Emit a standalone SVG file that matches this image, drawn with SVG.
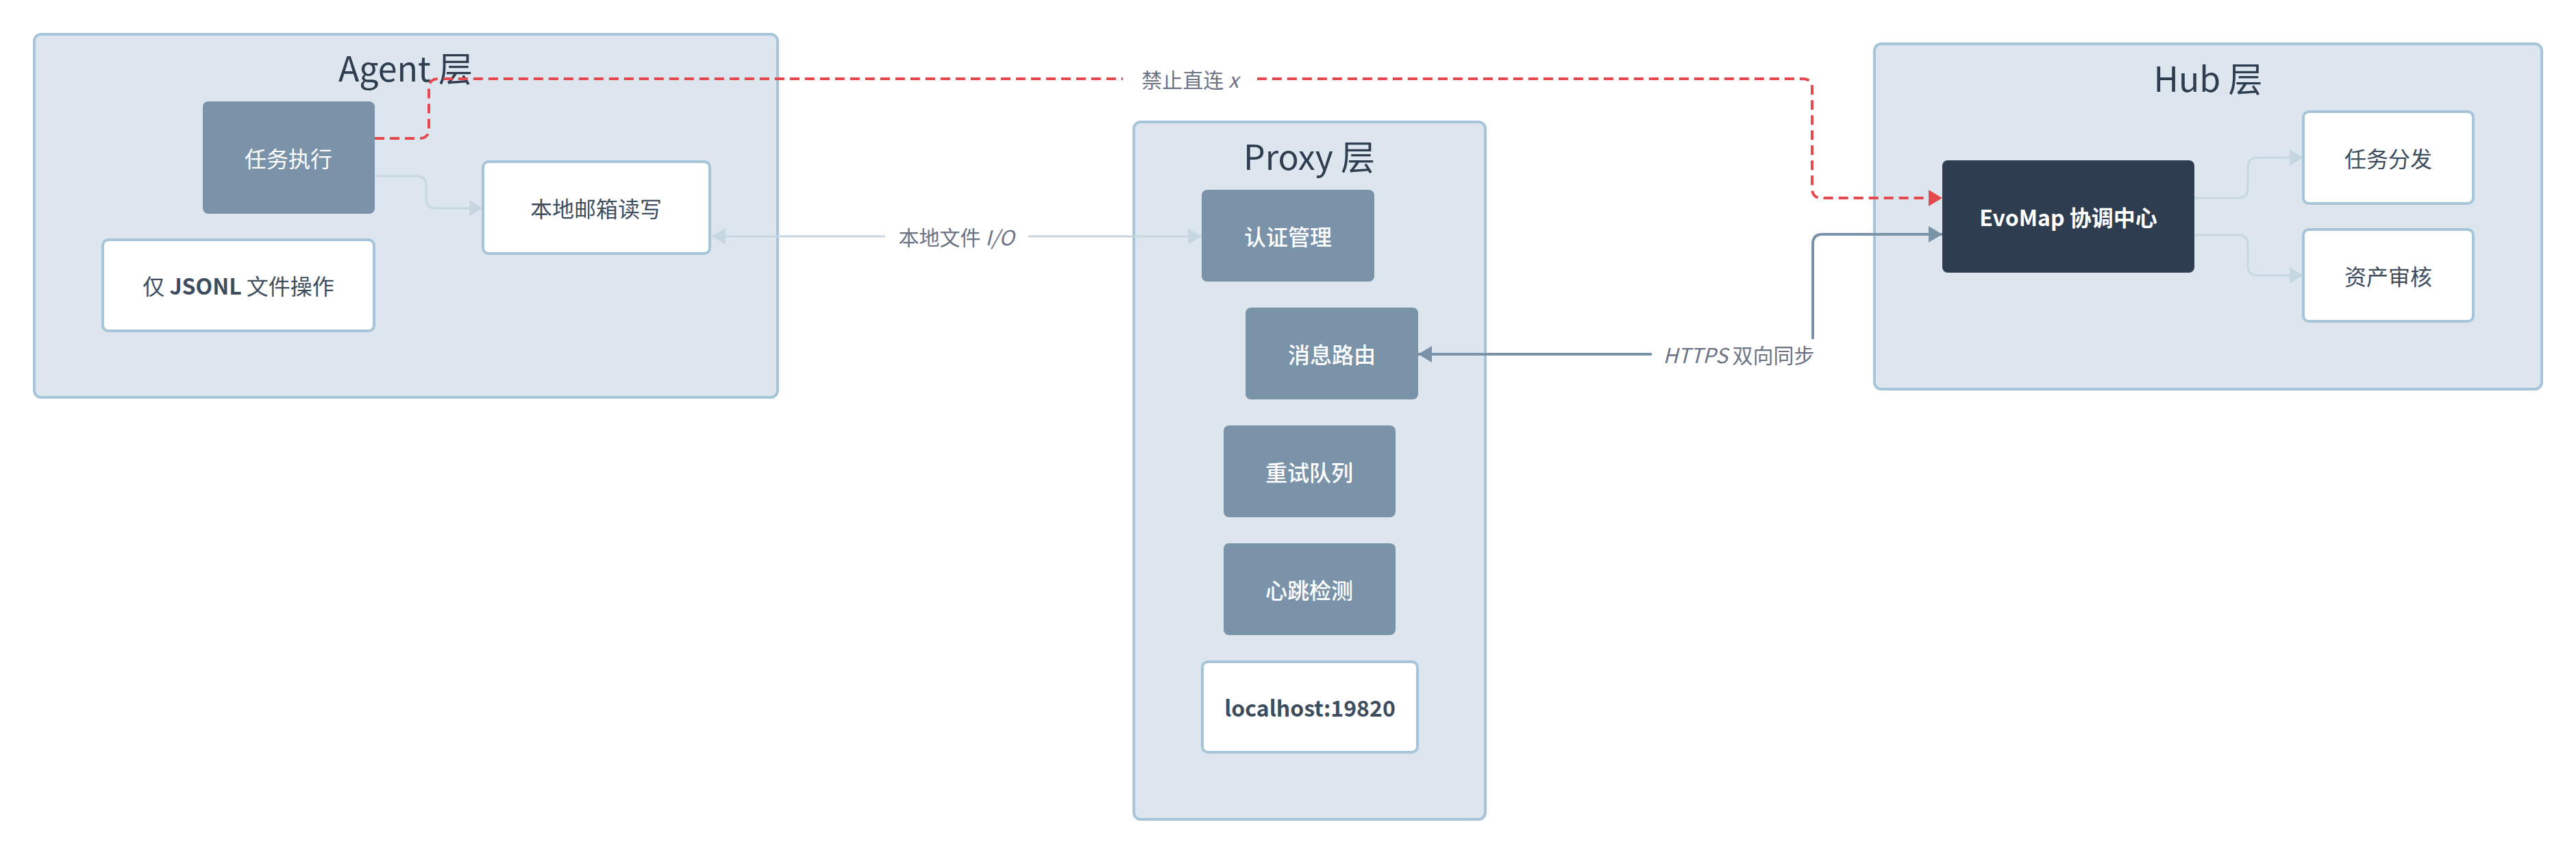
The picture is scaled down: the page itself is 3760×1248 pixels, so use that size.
<svg xmlns="http://www.w3.org/2000/svg" width="3760" height="1248" viewBox="0 0 3760 1248">
<defs>
<style>
text{font-family:"Noto Sans CJK SC","Noto Sans",sans-serif;text-anchor:middle;dominant-baseline:central}
.cont{fill:#dde6ee;stroke:#a7c5d8;stroke-width:4}
.title{font-size:50px;fill:#2e3d50}
.mid{fill:#7b93a9}
.dark{fill:#2e3d50}
.white{fill:#ffffff;stroke:#a7c5d8;stroke-width:4}
.tw{font-size:32px;fill:#ffffff}
.tm{font-weight:500}
.tb{font-size:32px;fill:#3d4d5e}
.lbl{font-size:30px;fill:#6b7385}
.light{fill:none;stroke:#c7d7e1;stroke-width:3}
.red{fill:none;stroke:#e5484d;stroke-width:4;stroke-dasharray:14 8}
.blue{fill:none;stroke:#7b93a9;stroke-width:4}
</style>
<marker id="aL" markerUnits="userSpaceOnUse" markerWidth="20" markerHeight="24" refX="20" refY="12" orient="auto-start-reverse"><path d="M0,0 L20,12 L0,24 z" fill="#c7d7e1"/></marker>
<marker id="aR" markerUnits="userSpaceOnUse" markerWidth="20" markerHeight="24" refX="20" refY="12" orient="auto-start-reverse"><path d="M0,0 L20,12 L0,24 z" fill="#e5484d"/></marker>
<marker id="aB" markerUnits="userSpaceOnUse" markerWidth="20" markerHeight="24" refX="20" refY="12" orient="auto-start-reverse"><path d="M0,0 L20,12 L0,24 z" fill="#7b93a9"/></marker>
</defs>
<rect width="3760" height="1248" fill="#ffffff"/>

<g id="agent-layer">
<rect class="cont" x="50" y="50" width="1085" height="530" rx="10"/>
<text class="title" x="592" y="97">Agent 层</text>
</g>
<g id="proxy-layer">
<rect class="cont" x="1655" y="178" width="513" height="1018" rx="10"/>
<text class="title" x="1911" y="226">Proxy 层</text>
</g>
<g id="hub-layer">
<rect class="cont" x="2736" y="64" width="974" height="504" rx="10"/>
<text class="title" x="3223" y="112">Hub 层</text>
</g>

<g id="connectors">
<path class="light" d="M547,257 H608 Q622,257 622,271 V290 Q622,304 636,304 H705" marker-end="url(#aL)"/>
<path class="light" d="M1039,345 H1754" marker-start="url(#aL)" marker-end="url(#aL)"/>
<rect x="1292" y="322" width="209" height="46" fill="#ffffff"/>
<text class="lbl" x="1396" y="345">本地文件 <tspan font-style="italic">I/O</tspan></text>
<path class="red" d="M547,202 H612 Q626,202 626,188 V129 Q626,115 640,115 H2631 Q2645,115 2645,129 V275 Q2645,289 2659,289 H2835" marker-end="url(#aR)"/>
<rect x="1639" y="92" width="196" height="46" fill="#ffffff"/>
<text class="lbl" x="1737" y="115">禁止直连 <tspan font-style="italic">x</tspan></text>
<path class="blue" d="M2070,517 H2632 Q2646,517 2646,503 V356 Q2646,342 2660,342 H2835" marker-start="url(#aB)" marker-end="url(#aB)"/>
<rect x="2411" y="495" width="252" height="45" fill="#ffffff"/>
<text class="lbl" x="2538" y="517"><tspan font-style="italic">HTTPS</tspan> 双向同步</text>
<path class="light" d="M3203,289 H3267 Q3281,289 3281,275 V244 Q3281,230 3295,230 H3362" marker-end="url(#aL)"/>
<path class="light" d="M3203,343 H3267 Q3281,343 3281,357 V388 Q3281,402 3295,402 H3362" marker-end="url(#aL)"/>
</g>

<g id="node-task-exec">
<rect class="mid" x="296" y="148" width="251" height="164" rx="8"/>
<text class="tw" x="421" y="230">任务执行</text>
</g>
<g id="node-mailbox">
<rect class="white" x="705" y="236" width="331" height="134" rx="8"/>
<text class="tb" x="870" y="303">本地邮箱读写</text>
</g>
<g id="node-jsonl">
<rect class="white" x="150" y="350" width="396" height="133" rx="8"/>
<text class="tb" x="348" y="416">仅 <tspan font-weight="bold">JSONL</tspan> 文件操作</text>
</g>

<g id="node-auth">
<rect class="mid" x="1754" y="277" width="252" height="134" rx="8"/>
<text class="tw tm" x="1880" y="344">认证管理</text>
</g>
<g id="node-route">
<rect class="mid" x="1818" y="449" width="252" height="134" rx="8"/>
<text class="tw tm" x="1944" y="516">消息路由</text>
</g>
<g id="node-retry">
<rect class="mid" x="1786" y="621" width="251" height="134" rx="8"/>
<text class="tw tm" x="1911" y="688">重试队列</text>
</g>
<g id="node-heartbeat">
<rect class="mid" x="1786" y="793" width="251" height="134" rx="8"/>
<text class="tw tm" x="1911" y="860">心跳检测</text>
</g>
<g id="node-localhost">
<rect class="white" x="1755" y="966" width="314" height="132" rx="8"/>
<text class="tb" x="1912" y="1032" font-weight="bold">localhost:19820</text>
</g>

<g id="node-evomap">
<rect class="dark" x="2835" y="234" width="368" height="164" rx="8"/>
<text class="tw" x="3019" y="316" font-weight="bold">EvoMap 协调中心</text>
</g>
<g id="node-dispatch">
<rect class="white" x="3362" y="163" width="248" height="134" rx="8"/>
<text class="tb" x="3486" y="230">任务分发</text>
</g>
<g id="node-audit">
<rect class="white" x="3362" y="335" width="248" height="134" rx="8"/>
<text class="tb" x="3486" y="402">资产审核</text>
</g>
</svg>
